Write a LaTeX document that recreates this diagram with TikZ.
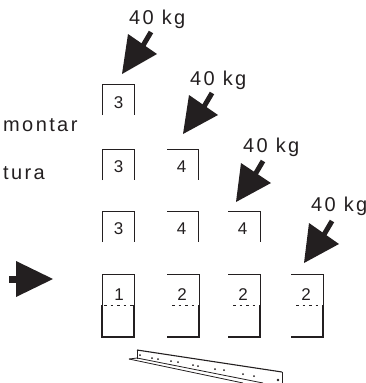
\documentclass[tikz,border=0pt]{standalone}
\usepackage{fontspec}
\setmainfont{Liberation Sans}
\newfontfamily\lblfont[LetterSpace=12]{Liberation Sans}
\definecolor{ink}{HTML}{231F20}
\tikzset{
  weight/.style={fill=ink,draw=none},
  shaft/.style={draw=ink,line width=5pt},
  lbl/.style={font=\lblfont\fontsize{20}{20}\selectfont,text=ink,inner sep=0pt,anchor=base west},
  num/.style={font=\fontsize{17}{17}\selectfont,text=ink,inner sep=0pt,anchor=base},
  frame/.style={draw=ink,line width=.9pt},
  heavy/.style={draw=ink,line width=1.2pt},
  rail/.style={draw=ink,line width=.8pt},
  railtop/.style={draw=ink,line width=1.1pt},
  cut/.style={draw=ink,line width=.9pt,dash pattern=on 2.5pt off 4pt}
}
\begin{document}
\begin{tikzpicture}[x=1pt,y=-1pt]
\useasboundingbox (0,0) rectangle (366,383);
\begin{scope}
\clip (0,0) rectangle (366,383);
% loads
\node[lbl] (l1) at (129,24) {40 kg};
\node[lbl] (l2) at (190,85) {40 kg};
\node[lbl] (l3) at (243,152) {40 kg};
\node[lbl] (l4) at (311,211) {40 kg};
\node[lbl] (t1) at (3,131) {montar};
\node[lbl] (t2) at (3,179) {tura};
\end{scope}
% arrows
\draw[shaft] (151,32) -- (141,49);
\fill[weight] (122,74) -- (128,34) -- (157,54) -- cycle;
\draw[shaft] (212,93) -- (202,110);
\fill[weight] (183,134) -- (189,95) -- (218,115) -- cycle;
\draw[shaft] (263,161) -- (253,178);
\fill[weight] (236,202) -- (241,163) -- (271,183) -- cycle;
\draw[shaft] (332,221) -- (322,238);
\fill[weight] (304,263) -- (309,223) -- (339,244) -- cycle;
\draw[ink,line width=7pt] (9,279) -- (20,279);
\fill[weight] (53,279) -- (16,261) -- (16,297) -- cycle;
% small boxes
\draw[frame] (102,115) -- (102,84) -- (134,84) -- (134,115);
\node[num] (a) at (118.5,108) {3};
\draw[frame] (102,180) -- (102,149) -- (134,149) -- (134,180);
\node[num] (b) at (118.5,172) {3};
\draw[frame] (167,149) -- (198,149) -- (198,180);
\node[num] (c) at (181.5,172) {4};
\draw[frame] (102,242) -- (102,211) -- (134,211) -- (134,242);
\node[num] (d) at (118.5,234) {3};
\draw[frame] (167,211) -- (198,211) -- (198,242);
\node[num] (e) at (181.5,234) {4};
\draw[frame] (228,211) -- (260,211) -- (260,242);
\node[num] (f) at (242.5,234) {4};
% bottom boxes
\draw[frame] (102,305) -- (102,274) -- (134,274) -- (134,305);
\draw[heavy] (102,305) -- (102,337) -- (134,337) -- (134,305);
\node[num] (g) at (119,300) {1};
\draw[frame] (167,274) -- (199,274) -- (199,305);
\draw[heavy] (199,305) -- (199,337) -- (167,337);
\node[num] (h) at (182,300) {2};
\draw[frame] (228,274) -- (260,274) -- (260,305);
\draw[heavy] (260,305) -- (260,337) -- (228,337);
\node[num] (i) at (243,300) {2};
\draw[frame] (291,274) -- (323,274) -- (323,305);
\draw[heavy] (323,305) -- (323,337) -- (291,337);
\node[num] (j) at (306,300) {2};
\draw[cut] (104,305) -- (134,305);
\draw[cut] (172,305) -- (199,305);
\draw[cut] (233,305) -- (260,305);
\draw[cut] (296,305) -- (323,305);
% rail
\draw[railtop] (282,372) -- (137,350);
\draw[rail] (137,359) -- (137,350);
\draw[rail] (282,372) -- (282,383);
\draw[rail] (129,359) -- (137,358) -- (263,383);
\draw[rail] (129,359) -- (243,383);
\fill[ink] (140,355) circle (1) (152,358) circle (1) (158,359) circle (1)
 (171,361) circle (1) (178,362) circle (1) (193,365) circle (1) (198,366) circle (1)
 (215,369) circle (1) (224,370) circle (1) (243,374) circle (1) (254,376) circle (1) (278,380) circle (1.4);
\end{tikzpicture}
\end{document}
